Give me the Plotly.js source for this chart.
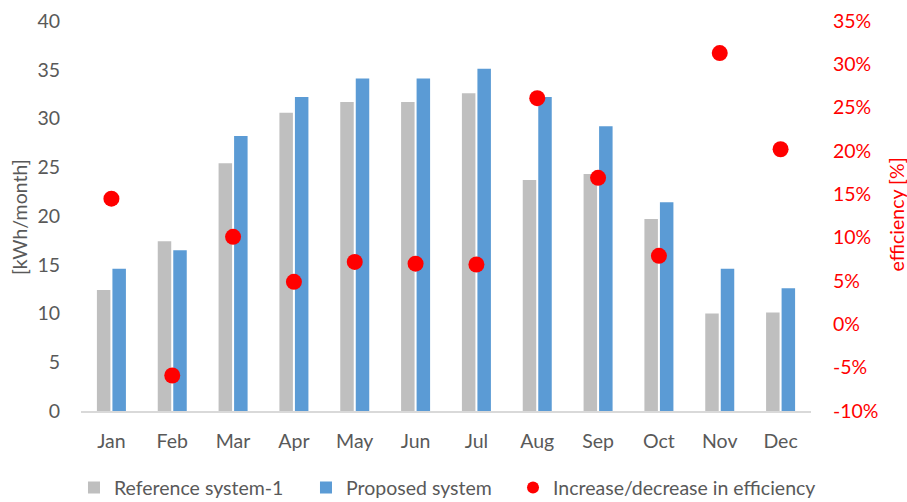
<!DOCTYPE html>
<html><head><meta charset="utf-8">
<script src="https://cdn.plot.ly/plotly-3.0.1.min.js"></script>
<style>html,body{margin:0;padding:0;background:#fff}#chart{width:907px;height:502px}</style>
</head><body><div id="chart"></div>
<script>
const months = ["Jan","Feb","Mar","Apr","May","Jun","Jul","Aug","Sep","Oct","Nov","Dec"];
const referenceSystem = [12.4, 17.4, 25.4, 30.6, 31.7, 31.7, 32.6, 23.7, 24.3, 19.7, 10.0, 10.1];
const proposedSystem = [14.6, 16.5, 28.2, 32.2, 34.1, 34.1, 35.1, 32.2, 29.2, 21.4, 14.6, 12.6];
const efficiencyChange = [14.5, -5.9, 10.1, 4.9, 7.2, 7.0, 6.9, 26.1, 16.9, 7.9, 31.3, 20.2];
const leftTicks = [0,5,10,15,20,25,30,35,40];
const rightTicks = [-10,-5,0,5,10,15,20,25,30,35];

const fontFam = "Lato, sans-serif";
const fs = 19.5;
const data = [
  {type:"bar", name:"Reference system-1", x:months, y:referenceSystem,
   marker:{color:"#bfbfbf"}, yaxis:"y", legend:"legend"},
  {type:"bar", name:"Proposed system", x:months, y:proposedSystem,
   marker:{color:"#5b9bd5"}, yaxis:"y", legend:"legend2"},
  {type:"scatter", mode:"markers", name:"Increase/decrease in efficiency", x:months, y:efficiencyChange,
   marker:{color:"#ff0000", size:16}, yaxis:"y2", legend:"legend3"}
];
const legY = -0.197;
function leg(x){
  return {orientation:"h", x:x, xanchor:"left", y:legY, yanchor:"middle", itemsizing:"constant",
          font:{size:19.5, color:"#595959"}, bgcolor:"rgba(0,0,0,0)"};
}
const layout = {
  width:907, height:502,
  margin:{l:81, r:96, t:21, b:91, autoexpand:false},
  paper_bgcolor:"#fff", plot_bgcolor:"#fff",
  font:{family:fontFam, color:"#595959", size:fs},
  barmode:"group", bargap:0.49, bargroupgap:0.13,
  showlegend:true,
  legend:leg(-0.0096), legend2:leg(0.3082), legend3:leg(0.5918),
  xaxis:{range:[-0.5, 11.5], showline:true, linecolor:"#d9d9d9", linewidth:1.5, showgrid:false, zeroline:false,
         ticks:"", ticklabelstandoff:12, tickfont:{size:fs, color:"#595959"}, automargin:false},
  yaxis:{range:[0,40], tickvals:leftTicks, showgrid:false, zeroline:false, showline:false,
         ticklabelstandoff:20, tickfont:{size:fs, color:"#595959"}, automargin:false},
  yaxis2:{range:[-10,35], tickvals:rightTicks, ticktext:rightTicks.map(v=>v+"%"),
          overlaying:"y", side:"right", showgrid:false, zeroline:false, showline:false,
          ticklabelstandoff:21, tickfont:{size:fs, color:"#ff0000"}, automargin:false},
  annotations:[
    {text:"[kWh/month]", xref:"paper", yref:"paper", x:-0.085, y:0.497, xanchor:"center", yanchor:"middle",
     textangle:-90, showarrow:false, font:{size:fs, color:"#595959"}},
    {text:"efficiency [%]", xref:"paper", yref:"paper", x:1.117, y:0.505, xanchor:"center", yanchor:"middle",
     textangle:-90, showarrow:false, font:{size:fs, color:"#ff0000"}}
  ]
};
Plotly.newPlot("chart", data, layout, {displayModeBar:false, staticPlot:true});
</script></body></html>
